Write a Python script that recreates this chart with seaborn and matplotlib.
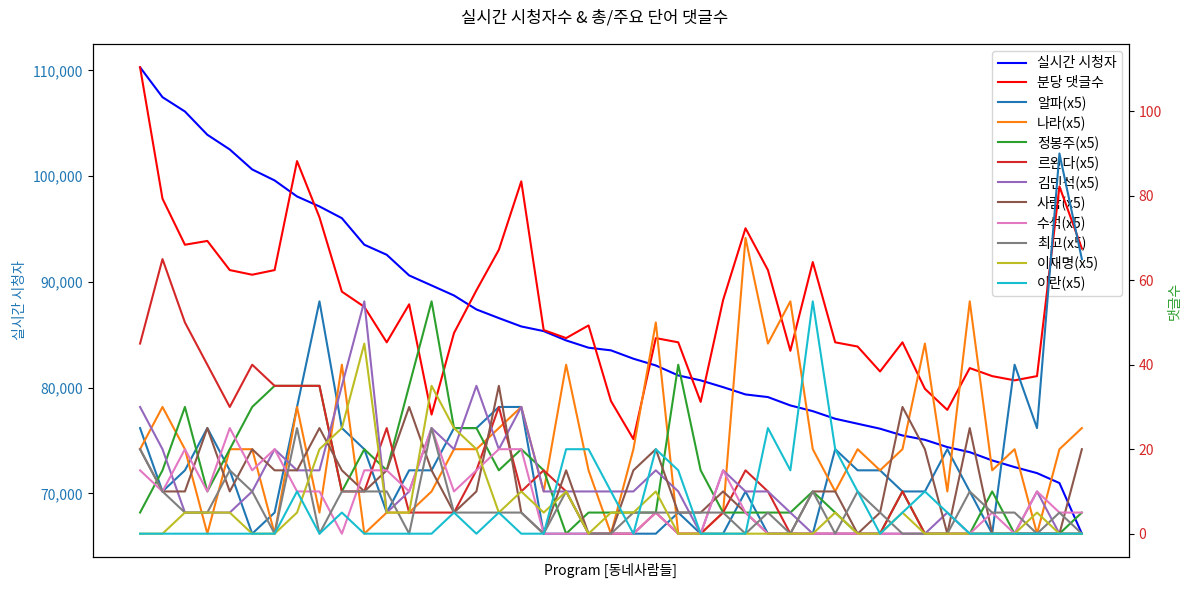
import matplotlib
matplotlib.use("Agg")
import matplotlib.pyplot as plt
import matplotlib.ticker as mticker
import seaborn as sns
import pandas as pd

plt.rcParams['font.family'] = ['Noto Sans CJK KR', 'DejaVu Sans']
plt.rcParams['axes.unicode_minus'] = False

minutes = list(range(43))

viewers = [110300, 107475, 106120, 103920, 102530, 100640, 99600, 98085, 97140, 96030,
           93520, 92570, 90615, 89670, 88720, 87400, 86580, 85790, 85350, 84470,
           83780, 83530, 82740, 82100, 81160, 80690, 80050, 79360, 79110, 78320,
           77780, 77060, 76590, 76120, 75480, 75070, 74380, 73900, 73120, 72490,
           71920, 70980, 66190]

comments = [110.4, 79.3, 68.4, 69.3, 62.4, 61.3, 62.4, 88.2, 74.9, 57.3,
            53.7, 45.3, 54.3, 28.2, 47.5, 57.6, 67.2, 83.4, 48.2, 46.3,
            49.3, 31.4, 22.4, 46.3, 45.3, 31.2, 55.3, 72.3, 62.4, 43.3,
            64.3, 45.3, 44.3, 38.4, 45.3, 34.3, 29.3, 39.2, 37.3, 36.3,
            37.3, 82.2, 67.5]

kw_alpha = [25, 10, 15, 25, 15, 0, 5, 30, 55, 25, 20, 5, 15, 15, 25, 25, 30, 30, 0, 0,
            0, 0, 0, 0, 5, 0, 0, 10, 0, 0, 0, 20, 15, 15, 10, 10, 20, 10, 0, 40,
            25, 90, 65]
kw_nara = [20, 30, 20, 0, 20, 20, 0, 30, 5, 40, 0, 5, 5, 10, 20, 20, 25, 30, 10, 40,
           15, 0, 20, 50, 0, 0, 5, 70, 45, 55, 20, 10, 20, 15, 20, 45, 10, 55, 15, 20,
           0, 20, 25]
kw_jbj = [5, 15, 30, 10, 20, 30, 35, 35, 35, 10, 20, 15, 35, 55, 25, 25, 15, 20, 15, 0,
          5, 5, 5, 5, 40, 15, 5, 5, 5, 5, 10, 5, 0, 0, 10, 0, 0, 0, 10, 0,
          0, 0, 5]
kw_rwanda = [45, 65, 50, 40, 30, 40, 35, 35, 35, 10, 10, 25, 5, 5, 5, 15, 30, 10, 15, 10,
             0, 0, 0, 5, 0, 0, 5, 15, 10, 0, 0, 0, 0, 0, 10, 0, 0, 0, 0, 0,
             0, 0, 0]
kw_kms = [30, 20, 5, 5, 5, 10, 20, 15, 15, 35, 55, 5, 10, 25, 20, 35, 20, 30, 10, 10,
          10, 10, 10, 15, 10, 0, 15, 10, 10, 5, 0, 0, 0, 0, 0, 0, 5, 0, 0, 0,
          10, 0, 0]
kw_saram = [20, 10, 10, 25, 10, 20, 15, 15, 25, 15, 10, 15, 30, 15, 5, 10, 35, 5, 0, 15,
            0, 0, 15, 20, 5, 5, 10, 5, 0, 0, 10, 10, 0, 5, 30, 20, 0, 25, 0, 0,
            0, 0, 20]
kw_suseok = [15, 10, 20, 10, 25, 15, 20, 10, 10, 0, 15, 15, 10, 25, 10, 15, 20, 20, 0, 0,
             0, 0, 0, 5, 0, 0, 15, 5, 0, 0, 0, 0, 0, 0, 0, 0, 0, 0, 5, 0,
             10, 5, 5]
kw_choego = [20, 10, 5, 5, 15, 10, 0, 25, 0, 10, 10, 10, 0, 25, 5, 5, 5, 5, 0, 10,
             0, 0, 5, 5, 5, 5, 5, 0, 5, 0, 10, 0, 10, 5, 0, 0, 0, 10, 5, 5,
             0, 5, 0]
kw_ljm = [0, 0, 5, 5, 5, 0, 0, 5, 20, 25, 45, 5, 5, 35, 25, 20, 5, 10, 5, 10,
          0, 5, 5, 10, 0, 0, 0, 0, 0, 0, 0, 5, 0, 0, 5, 0, 0, 0, 0, 0,
          5, 0, 0]
kw_iran = [0, 0, 0, 0, 0, 0, 0, 10, 0, 5, 0, 0, 0, 0, 5, 0, 5, 0, 0, 20,
           20, 10, 0, 20, 15, 0, 0, 0, 25, 15, 55, 20, 10, 0, 5, 10, 5, 0, 0, 0,
           0, 0, 0]

kw_names = ['알파', '나라', '정봉주', '르완다', '김민석', '사람', '수석', '최고', '이재명', '이란']
kw_series = [kw_alpha, kw_nara, kw_jbj, kw_rwanda, kw_kms, kw_saram, kw_suseok,
             kw_choego, kw_ljm, kw_iran]
kw_colors = ['tab:blue', 'tab:orange', 'tab:green', 'tab:red', 'tab:purple',
             'tab:brown', 'tab:pink', 'tab:gray', 'tab:olive', 'tab:cyan']

fig, ax1 = plt.subplots(figsize=(11.89, 5.92), dpi=100)
fig.subplots_adjust(left=0.0782, right=0.9495, top=0.9257, bottom=0.0591)
ax2 = ax1.twinx()

handles = []
sns.lineplot(x=minutes, y=viewers, ax=ax1, color='blue', legend=False, linewidth=1.5)
ln = ax1.lines[-1]; ln.set_label('실시간 시청자'); handles.append(ln)

sns.lineplot(x=minutes, y=comments, ax=ax2, color='red', legend=False, linewidth=1.5)
ln = ax2.lines[-1]; ln.set_label('분당 댓글수'); handles.append(ln)

for name, vals, col in zip(kw_names, kw_series, kw_colors):
    sns.lineplot(x=minutes, y=vals, ax=ax2, color=col, legend=False, linewidth=1.5)
    ln = ax2.lines[-1]; ln.set_label(f'{name}(x5)'); handles.append(ln)

ax1.set_xticks([])
ax1.set_xlabel('Program [동네사람들]', fontsize=10)
ax1.set_ylabel('실시간 시청자', color='tab:blue', fontsize=10)
ax2.set_ylabel('댓글수', color='tab:green', fontsize=10)
ax1.yaxis.set_major_formatter(mticker.StrMethodFormatter('{x:,.0f}'))
ax1.tick_params(axis='y', labelcolor='tab:blue', labelsize=10)
ax2.tick_params(axis='y', labelcolor='tab:red', labelsize=10)

ax1.legend(handles, [h.get_label() for h in handles], loc='upper right', fontsize=10,
           labelspacing=0.38)
fig.suptitle('실시간 시청자수 & 총/주요 단어 댓글수', fontsize=12, y=1 - 18 / 592, va='center')

fig.savefig('out.png', dpi=100)
